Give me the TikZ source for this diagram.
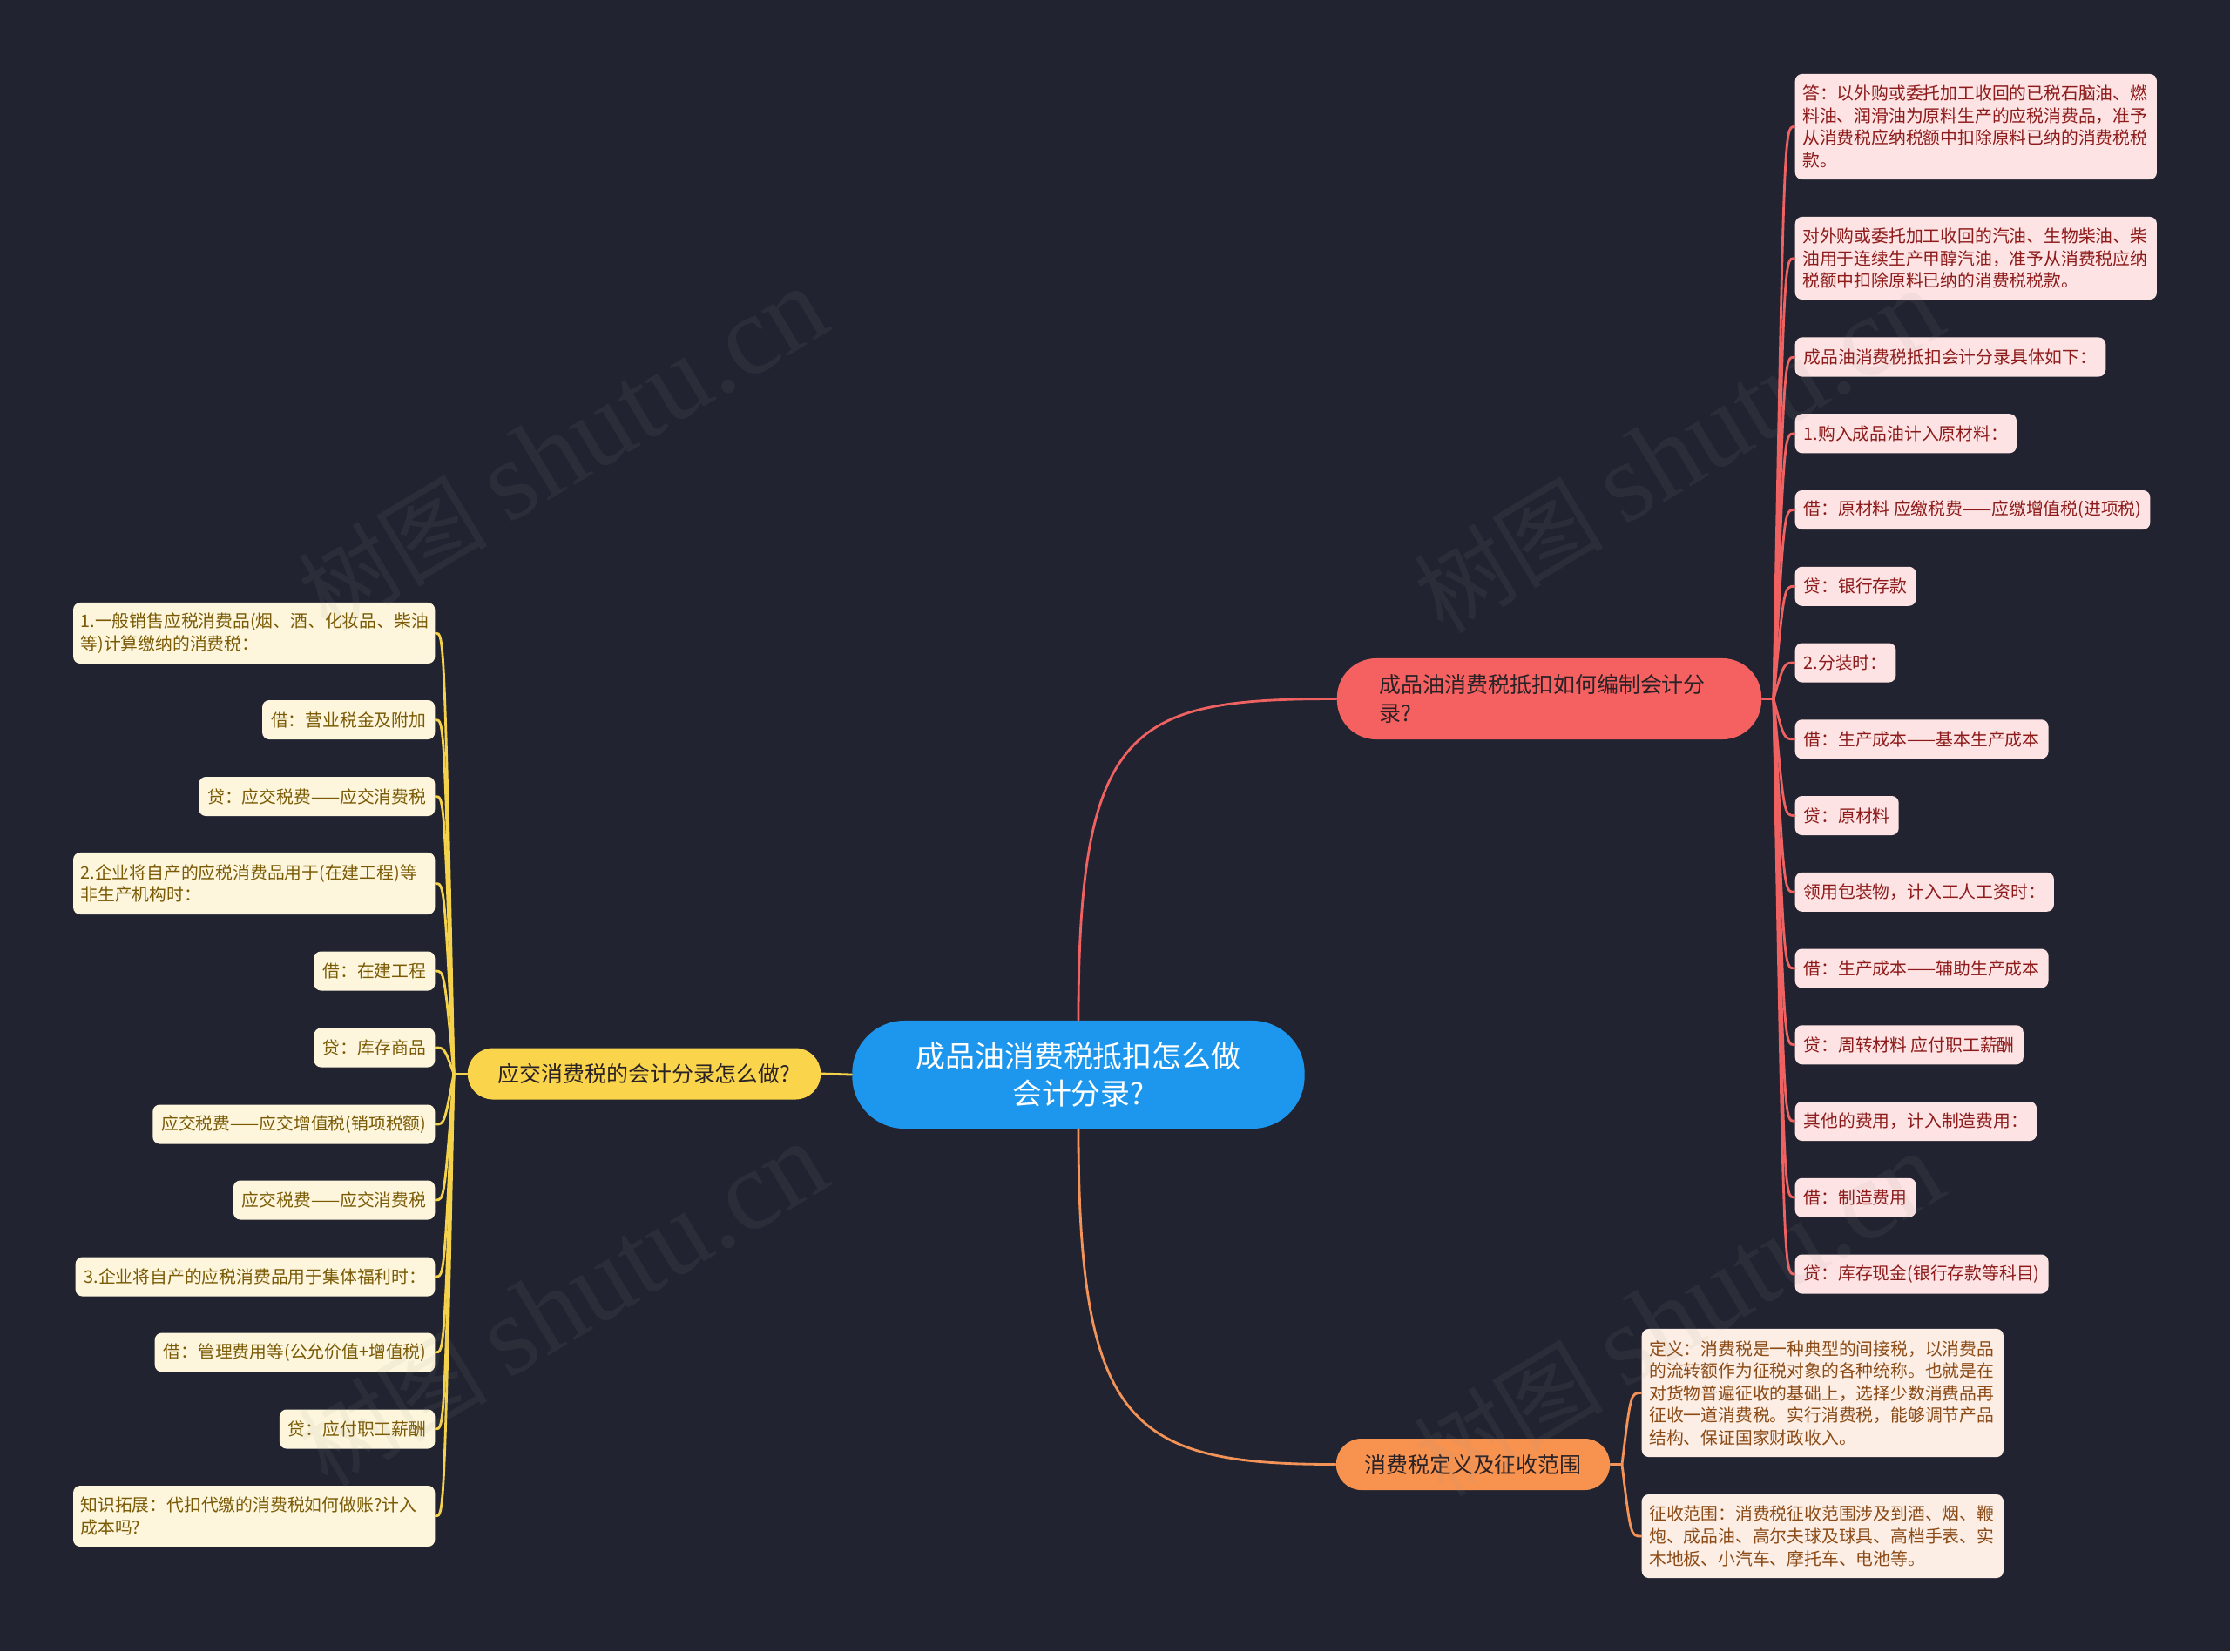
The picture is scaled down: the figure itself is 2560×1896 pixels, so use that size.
\documentclass[tikz,border=0pt]{standalone}
\usepackage{fontspec}
\setmainfont{Noto Sans CJK SC}
\newfontfamily\wmlatin{Liberation Serif}
\definecolor{bgc}{HTML}{212430}
\definecolor{bluec}{HTML}{1D97EE}
\definecolor{redc}{HTML}{F56060}
\definecolor{redline}{HTML}{F06262}
\definecolor{redleaf}{HTML}{FDE3E3}
\definecolor{redtext}{HTML}{8E1B1B}
\definecolor{yelc}{HTML}{FAD54B}
\definecolor{yelline}{HTML}{F5D24C}
\definecolor{yelleaf}{HTML}{FDF6DC}
\definecolor{yeltext}{HTML}{7A5A05}
\definecolor{orac}{HTML}{F7934F}
\definecolor{oraline}{HTML}{F39358}
\definecolor{oraleaf}{HTML}{FCEEE4}
\definecolor{oratext}{HTML}{8B4A16}
\definecolor{darktext}{HTML}{2A2226}
\definecolor{wmc}{HTML}{9A9A9A}
\newcommand\leaffont{\fontsize{5.63pt}{7.26pt}\selectfont}
\newcommand\branchfont{\fontsize{7.1pt}{9.4pt}\selectfont}
\newcommand\rootfont{\fontsize{9.64pt}{12.2pt}\selectfont}
\tikzset{
  leaf/.style={rounded corners=0.08cm, inner xsep=0.1cm, inner ysep=0pt, minimum height=0.45cm, font=\leaffont},
  multi/.style={text width=3.98cm, align=left, inner xsep=0.085cm},
  rleaf/.style={leaf, fill=redleaf, text=redtext, anchor=west},
  yleaf/.style={leaf, fill=yelleaf, text=yeltext, anchor=east},
  oleaf/.style={leaf, fill=oraleaf, text=oratext, anchor=west},
  branch/.style={inner sep=0pt, font=\branchfont, text=darktext},
  conn/.style={line width=0.8pt, line cap=round},
  rline/.style={conn, draw=redline},
  yline/.style={conn, draw=yelline},
  oline/.style={conn, draw=oraline},
  wm/.style={text=wmc, opacity=0.09, rotate=31, inner sep=0pt},
}
\begin{document}
\begin{tikzpicture}[x=0.01cm,y=-0.01cm]
\fill[bgc] (0,0) rectangle (2560,1896);
\useasboundingbox (0,0) rectangle (2560,1896);

% root and branches
\node[fill=bluec, text=white, font=\rootfont, align=center, inner sep=0pt,
      minimum width=5.19cm, minimum height=1.24cm, rounded corners=0.6cm] (root) at (1238,1234)
      {成品油消费税抵扣怎么做\\会计分录?};
\node[branch, fill=redc, text width=3.9cm, align=left, minimum width=4.87cm, minimum height=0.93cm,
      rounded corners=0.45cm] (rmain) at (1778.5,802.5) {成品油消费税抵扣如何编制会计分\\录?};
\node[branch, fill=yelc, minimum width=4.05cm, minimum height=0.59cm, rounded corners=0.29cm]
      (ymain) at (739.5,1233) {应交消费税的会计分录怎么做?};
\node[branch, fill=orac, minimum width=3.14cm, minimum height=0.59cm, rounded corners=0.29cm]
      (omain) at (1691,1681.5) {消费税定义及征收范围};

% red leaves
\node[rleaf, multi, minimum height=1.21cm] (r1) at (2060,145.5) {答：以外购或委托加工收回的已税石脑油、燃\\料油、润滑油为原料生产的应税消费品，准予\\从消费税应纳税额中扣除原料已纳的消费税税\\款。};
\node[rleaf, multi, minimum height=0.95cm] (r2) at (2060,296.5) {对外购或委托加工收回的汽油、生物柴油、柴\\油用于连续生产甲醇汽油，准予从消费税应纳\\税额中扣除原料已纳的消费税税款。};
\node[rleaf] (r3) at (2060,410) {成品油消费税抵扣会计分录具体如下：};
\node[rleaf] (r4) at (2060,497.75) {1.购入成品油计入原材料：};
\node[rleaf] (r5) at (2060,585.5) {借：原材料 应缴税费——应缴增值税(进项税)};
\node[rleaf] (r6) at (2060,673.25) {贷：银行存款};
\node[rleaf] (r7) at (2060,761) {2.分装时：};
\node[rleaf] (r8) at (2060,848.75) {借：生产成本——基本生产成本};
\node[rleaf] (r9) at (2060,936.5) {贷：原材料};
\node[rleaf] (r10) at (2060,1024.25) {领用包装物，计入工人工资时：};
\node[rleaf] (r11) at (2060,1112) {借：生产成本——辅助生产成本};
\node[rleaf] (r12) at (2060,1199.75) {贷：周转材料 应付职工薪酬};
\node[rleaf] (r13) at (2060,1287.5) {其他的费用，计入制造费用：};
\node[rleaf] (r14) at (2060,1375.25) {借：制造费用};
\node[rleaf] (r15) at (2060,1463) {贷：库存现金(银行存款等科目)};

% yellow leaves
\node[yleaf, multi, minimum height=0.70cm] (y1) at (500,727) {1.一般销售应税消费品(烟、酒、化妆品、柴油\\等)计算缴纳的消费税：};
\node[yleaf] (y2) at (500,826.5) {借：营业税金及附加};
\node[yleaf] (y3) at (500,914.5) {贷：应交税费——应交消费税};
\node[yleaf, multi, minimum height=0.71cm] (y4) at (500,1014.5) {2.企业将自产的应税消费品用于(在建工程)等\\非生产机构时：};
\node[yleaf] (y5) at (500,1115) {借：在建工程};
\node[yleaf] (y6) at (500,1203) {贷：库存商品};
\node[yleaf] (y7) at (500,1291) {应交税费——应交增值税(销项税额)};
\node[yleaf] (y8) at (500,1378) {应交税费——应交消费税};
\node[yleaf] (y9) at (500,1466) {3.企业将自产的应税消费品用于集体福利时：};
\node[yleaf] (y10) at (500,1553) {借：管理费用等(公允价值+增值税)};
\node[yleaf] (y11) at (500,1641) {贷：应付职工薪酬};
\node[yleaf, multi, minimum height=0.70cm] (y12) at (500,1741) {知识拓展：代扣代缴的消费税如何做账?计入\\成本吗?};

% orange leaves
\node[oleaf, multi, minimum height=1.47cm] (o1) at (1884,1599.5) {定义：消费税是一种典型的间接税，以消费品\\的流转额作为征税对象的各种统称。也就是在\\对货物普遍征收的基础上，选择少数消费品再\\征收一道消费税。实行消费税，能够调节产品\\结构、保证国家财政收入。};
\node[oleaf, multi, minimum height=0.96cm] (o2) at (1884,1764) {征收范围：消费税征收范围涉及到酒、烟、鞭\\炮、成品油、高尔夫球及球具、高档手表、实\\木地板、小汽车、摩托车、电池等。};

% main connectors
\draw[rline] (root.north) .. controls (1238,830) and (1300,802.5) .. (rmain.west);
\draw[oline] (root.south) .. controls (1238,1640) and (1300,1681.5) .. (omain.west);
\draw[yline] (root.west) -- (ymain.east);

% red leaf connectors
\coordinate (rj) at (2036,802.5);
\coordinate (rc) at (2048,802.5);
\draw[rline] (rmain.east) -- (rj);
\foreach \n in {r1,r2,r3,r4,r5,r6,r7,r8,r9,r10,r11,r12,r13,r14,r15}
  \draw[rline] (rj) .. controls (rc |- \n.west) and (rc |- \n.west) .. (\n.west);

% yellow leaf connectors
\coordinate (yj) at (521,1233);
\coordinate (yc) at (510,1233);
\draw[yline] (ymain.west) -- (yj);
\foreach \n in {y1,y2,y3,y4,y5,y6,y7,y8,y9,y10,y11,y12}
  \draw[yline] (yj) .. controls (yc |- \n.east) and (yc |- \n.east) .. (\n.east);

% orange leaf connectors
\coordinate (oj) at (1862,1681.5);
\coordinate (oc) at (1872,1681.5);
\draw[oline] (omain.east) -- (oj);
\foreach \n in {o1,o2}
  \draw[oline] (oj) .. controls (oc |- \n.west) and (oc |- \n.west) .. (\n.west);

% watermarks
\foreach \p [count=\i] in {(646,517),(1927,519),(646,1499),(1927,1510)}
  \node[wm] (wm\i) at \p {\fontsize{31pt}{31pt}\selectfont 树图 {\wmlatin\fontsize{37pt}{37pt}\selectfont shutu.cn}};
\end{tikzpicture}
\end{document}
